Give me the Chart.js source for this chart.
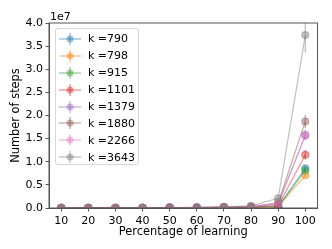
<!DOCTYPE html>
<html>
<head>
<meta charset="utf-8">
<script src="https://cdn.jsdelivr.net/npm/chart.js@4"></script>
<style>
  html, body { margin: 0; padding: 0; background: #fff; }
  #wrap { position: relative; width: 332px; height: 249px; font-family: "DejaVu Sans", sans-serif; }
  #legend {
    position: absolute; left: 55px; top: 28px; width: 84px; height: 137px;
    border: 1px solid #d6d6d6; border-radius: 3px; background: rgba(255,255,255,0.8);
    box-sizing: border-box; padding-top: 1.5px;
  }
  .item { display: flex; align-items: center; height: 16.9px; font-size: 11px; color: #000; white-space: nowrap; }
  .item svg { margin-left: 3px; margin-right: 7px; flex: none; }
</style>
</head>
<body>
<div id="wrap">
  <canvas id="chart" width="332" height="249"></canvas>
  <div id="legend"></div>
</div>
<script>
// x positions (percentage of learning)
const percents = [10, 20, 30, 40, 50, 60, 70, 80, 90, 100];
const kValues = [790, 798, 915, 1101, 1379, 1880, 2266, 3643];
const colors = ["#1f77b4", "#ff7f0e", "#2ca02c", "#d62728", "#9467bd", "#8c564b", "#e377c2", "#7f7f7f"];

// number of steps
const steps790  = [1e4, 2e4, 3e4, 4e4, 6e4, 8e4, 1.0e5, 1.5e5, 3.0e5, 8.6e6];
const steps798  = [1e4, 2e4, 3e4, 4e4, 6e4, 8e4, 1.0e5, 1.5e5, 2.5e5, 7.1e6];
const steps915  = [1e4, 2e4, 3e4, 4e4, 6e4, 8e4, 1.1e5, 1.6e5, 3.0e5, 8.1e6];
const steps1101 = [1e4, 2e4, 3e4, 4e4, 6e4, 9e4, 1.3e5, 2.0e5, 5.0e5, 1.15e7];
const steps1379 = [1e4, 2e4, 3e4, 5e4, 7e4, 1.0e5, 1.6e5, 2.6e5, 8.0e5, 1.57e7];
const steps1880 = [1e4, 2e4, 3e4, 5e4, 7e4, 1.1e5, 1.8e5, 3.0e5, 1.1e6, 1.87e7];
const steps2266 = [1e4, 2e4, 3e4, 5e4, 7e4, 1.1e5, 1.8e5, 3.0e5, 1.0e6, 1.58e7];
const steps3643 = [2e4, 3e4, 4e4, 6e4, 9e4, 1.4e5, 2.5e5, 4.5e5, 2.1e6, 3.74e7];
const seriesSteps = [steps790, steps798, steps915, steps1101, steps1379, steps1880, steps2266, steps3643];

// error bar half-widths
const err790  = [0, 0, 0, 0, 0, 0, 0, 0, 5e4, 7e5];
const err798  = [0, 0, 0, 0, 0, 0, 0, 0, 5e4, 5e5];
const err915  = [0, 0, 0, 0, 0, 0, 0, 0, 5e4, 5e5];
const err1101 = [0, 0, 0, 0, 0, 0, 0, 0, 1e5, 1.0e6];
const err1379 = [0, 0, 0, 0, 0, 0, 0, 0, 1e5, 1.0e6];
const err1880 = [0, 0, 0, 0, 0, 0, 0, 0, 2e5, 1.4e6];
const err2266 = [0, 0, 0, 0, 0, 0, 0, 0, 2e5, 1.2e6];
const err3643 = [0, 0, 0, 0, 0, 0, 0, 0, 3e5, 3.8e6];
const seriesErr = [err790, err798, err915, err1101, err1379, err1880, err2266, err3643];

const xTicks = [10, 20, 30, 40, 50, 60, 70, 80, 90, 100];
const yTicks = [0, 0.5e7, 1e7, 1.5e7, 2e7, 2.5e7, 3e7, 3.5e7, 4e7];

const TICK_FONT = { family: "DejaVu Sans", size: 11 };
const TITLE_FONT = { family: "DejaVu Sans", size: 11.4 };
const AXIS = "#555";

function alpha(hex, a) {
  const n = parseInt(hex.slice(1), 16);
  return `rgba(${n >> 16},${(n >> 8) & 255},${n & 255},${a})`;
}

// vertical error bars, drawn through the scales
const errorBars = {
  id: "errorBars",
  afterDatasetsDraw(chart) {
    const { ctx, chartArea, scales } = chart;
    ctx.save();
    ctx.beginPath();
    ctx.rect(chartArea.left, chartArea.top, chartArea.right - chartArea.left, chartArea.bottom - chartArea.top);
    ctx.clip();
    chart.data.datasets.forEach((ds) => {
      ctx.strokeStyle = ds.borderColor;
      ctx.lineWidth = 1.3;
      ds.data.forEach((p, i) => {
        const e = ds.err[i];
        if (!e) return;
        const x = scales.x.getPixelForValue(p.x);
        ctx.beginPath();
        ctx.moveTo(x, scales.y.getPixelForValue(p.y - e));
        ctx.lineTo(x, scales.y.getPixelForValue(p.y + e));
        ctx.stroke();
      });
    });
    ctx.restore();
  }
};

// full box around the plot + "1e7" offset label
const frame = {
  id: "frame",
  afterDraw(chart) {
    const { ctx, chartArea: a } = chart;
    ctx.save();
    ctx.strokeStyle = AXIS;
    ctx.lineWidth = 1;
    ctx.strokeRect(a.left, a.top, a.right - a.left, a.bottom - a.top);
    ctx.fillStyle = "#000";
    ctx.font = "11px 'DejaVu Sans'";
    ctx.textBaseline = "alphabetic";
    ctx.fillText("1e7", a.left + 1, a.top - 3);
    ctx.restore();
  }
};

const datasets = kValues.map((k, i) => ({
  label: "k =" + k,
  data: percents.map((p, j) => ({ x: p, y: seriesSteps[i][j] })),
  err: seriesErr[i],
  borderColor: alpha(colors[i], 0.5),
  backgroundColor: alpha(colors[i], 0.45),
  pointBackgroundColor: alpha(colors[i], 0.45),
  pointBorderColor: alpha(colors[i], 0.45),
  pointRadius: 3.5,
  borderWidth: 1.2,
  order: kValues.length - i
}));

new Chart(document.getElementById("chart"), {
  type: "line",
  data: { datasets },
  options: {
    responsive: false,
    animation: false,
    layout: { padding: { top: 23, right: 14.5, left: 0, bottom: 0 } },
    plugins: { legend: { display: false }, tooltip: { enabled: false } },
    scales: {
      x: {
        type: "linear",
        min: 5.5,
        max: 104.5,
        afterBuildTicks: (s) => { s.ticks = xTicks.map((v) => ({ value: v })); },
        afterFit: (s) => { s.height = 41; },
        grid: { drawOnChartArea: false, drawTicks: true, tickLength: 3.5, color: AXIS },
        border: { display: true, color: AXIS },
        ticks: { font: TICK_FONT, color: "#000", padding: 3, maxRotation: 0 },
        title: { display: true, text: "Percentage of learning", font: TITLE_FONT, color: "#000", padding: { top: 0, bottom: 10 } }
      },
      y: {
        min: 0,
        max: 4e7,
        afterBuildTicks: (s) => { s.ticks = yTicks.map((v) => ({ value: v })); },
        afterFit: (s) => { s.width = 49; },
        grid: { drawOnChartArea: false, drawTicks: true, tickLength: 3.5, color: AXIS },
        border: { display: true, color: AXIS },
        ticks: { font: TICK_FONT, color: "#000", padding: 2.5, callback: (v) => (v / 1e7).toFixed(1) },
        title: { display: true, text: "Number of steps", font: TITLE_FONT, color: "#000", padding: { top: 9.5, bottom: 0 } }
      }
    }
  },
  plugins: [errorBars, frame]
});

// legend box
const legend = document.getElementById("legend");
kValues.forEach((k, i) => {
  const c = alpha(colors[i], 0.5);
  const row = document.createElement("div");
  row.className = "item";
  row.innerHTML = `<svg width="22" height="12"><line x1="0" y1="6" x2="22" y2="6" stroke="${c}" stroke-width="1.3"/>` +
    `<line x1="11" y1="0" x2="11" y2="12" stroke="${c}" stroke-width="1.3"/>` +
    `<circle cx="11" cy="6" r="3.5" fill="${alpha(colors[i], 0.45)}"/></svg><span>k =${k}</span>`;
  legend.append(row);
});
</script>
</body>
</html>
